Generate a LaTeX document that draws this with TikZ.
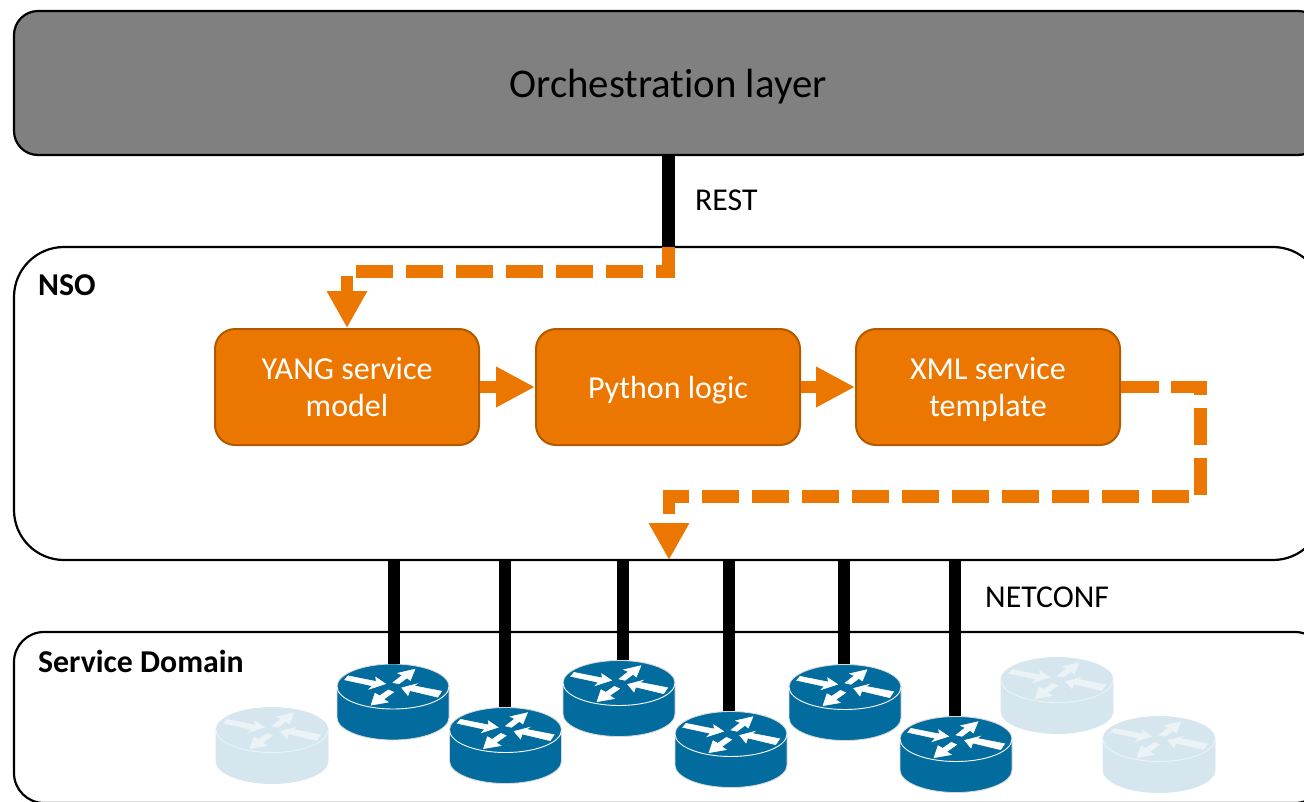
\documentclass[tikz,border=0pt]{standalone}
\usepackage{fontspec}
\setmainfont{Carlito}[Ligatures={NoCommon}]
\usetikzlibrary{arrows.meta}
\definecolor{orch}{HTML}{808080}
\definecolor{org}{HTML}{EC7700}
\definecolor{orgd}{HTML}{B05A00}
\definecolor{rblue}{HTML}{036C9E}
\definecolor{rfade}{HTML}{D6E6EF}
\newcommand{\nodepth}[1]{\raisebox{0pt}[\height][0pt]{#1}}
\tikzset{
  layerbox/.style={draw=black,line width=2.2pt,rounded corners=#1,inner sep=0pt},
  logicbox/.style={draw=orgd,line width=2pt,fill=org,rounded corners=20pt,minimum width=264pt,minimum height=116pt,inner sep=0pt,align=center,text=white,font=\fontsize{32pt}{37pt}\selectfont},
  lbl/.style={inner sep=0pt,font=\fontsize{31.8pt}{38pt}\selectfont},
  blbl/.style={lbl,font=\fontsize{31.8pt}{38pt}\selectfont\bfseries},
  link/.style={draw=black,line width=12.5pt},
  flow/.style={draw=org,line width=12.6pt,dash pattern=on 37.5pt off 12.5pt,-{Triangle[length=37pt,width=38pt]}},
  solidflow/.style={draw=org,line width=12.6pt,-{Triangle[length=39pt,width=38pt]}},
  routerspot/.style={inner sep=0pt,minimum width=113pt,minimum height=76pt}
}
\newcommand{\routerdraw}[6]{%
  % name, x, y(top-ellipse centre), body colour, arrow colour, outline colour
  \node[routerspot] (#1) at (#2,#3+15.5) {};
  \begin{scope}[shift={(#2,#3)}]
    \fill[#4,draw=#6,line width=0.8pt] (-56,0) -- (-56,31) arc[start angle=180,end angle=360,x radius=56,y radius=-22.5] -- (56,0) arc[start angle=0,end angle=180,x radius=56,y radius=-22.5] -- cycle;
    \draw[#5,line width=0.9pt] (-56,0) arc[start angle=180,end angle=360,x radius=56,y radius=-22.5];
    \begin{scope}[x=0.3333pt,y=-0.3333pt]
      \fill[#5,draw=#5,line width=0.5pt] (-145,-20) -- (-135,-32) -- (-50,-15) -- (-52,-28) -- (-22,-8) -- (-72,8) -- (-62,-2) -- cycle;
      \fill[#5,draw=#5,line width=0.5pt] (0,-12) -- (28,-34) -- (14,-40) -- (66,-52) -- (52,-18) -- (42,-26) -- (18,-8) -- cycle;
      \fill[#5,draw=#5,line width=0.5pt] (146,14) -- (134,32) -- (50,12) -- (45,27) -- (26,4) -- (72,-8) -- (63,-2) -- cycle;
      \fill[#5,draw=#5,line width=0.5pt] (-14,10) -- (-40,28) -- (-54,20) -- (-66,56) -- (-14,47) -- (-28,38) -- (2,17) -- cycle;
    \end{scope}
  \end{scope}}
\begin{document}
\begin{tikzpicture}[x=1pt,y=-1pt]
\useasboundingbox (0,0) rectangle (1304,801);
\clip (0,0) rectangle (1304,801);
\fill[white] (0,0) rectangle (1304,801);
% layers
\node[layerbox=24pt,fill=orch,minimum width=1308pt,minimum height=144pt,font=\fontsize{40.8pt}{48pt}\selectfont] (orchbox) at (668,83) {\nodepth{Orchestration layer}};
\node[layerbox=50pt,fill=white,minimum width=1309pt,minimum height=313pt] (nso) at (668.5,403.5) {};
\node[layerbox=30pt,fill=white,minimum width=1311pt,minimum height=171pt] (domain) at (669.5,717.5) {};
\node[blbl,anchor=west] (nsolbl) at (38,285) {NSO};
\node[blbl,anchor=west] (sdlbl) at (38,661) {Service Domain};
\node[lbl,anchor=west] (restlbl) at (695,200) {REST};
\node[lbl,anchor=west] (ncflbl) at (985,597) {NETCONF};
% logic boxes
\node[logicbox] (yang) at (347,387) {YANG service\\model};
\node[logicbox] (python) at (668,387) {\nodepth{Python logic}};
\node[logicbox] (xml) at (988,387) {XML service\\\nodepth{template}};
% faded routers
\routerdraw{f1}{272}{730}{rfade}{white!50!rfade}{rfade}
\routerdraw{f2}{1057}{680}{rfade}{white!50!rfade}{rfade}
\routerdraw{f3}{1159}{739}{rfade}{white!50!rfade}{rfade}
% active routers
\routerdraw{r1}{393}{686.5}{rblue}{white}{black!15}
\routerdraw{r2}{505.5}{730}{rblue}{white}{black!15}
\routerdraw{r3}{619}{683}{rblue}{white}{black!15}
\routerdraw{r4}{731}{734}{rblue}{white}{black!15}
\routerdraw{r5}{845}{687}{rblue}{white}{black!15}
\routerdraw{r6}{956}{739}{rblue}{white}{black!15}
% anchors of the links on the NSO edge
\coordinate (a1) at (394,560);
\coordinate (a2) at (505,560);
\coordinate (a3) at (623,560);
\coordinate (a4) at (729,560);
\coordinate (a5) at (844,560);
\coordinate (a6) at (955,560);
\draw[link] (a1) -- (a1 |- r1.north);
\draw[link] (a2) -- (a2 |- r2.north);
\draw[link] (a3) -- (a3 |- r3.north);
\draw[link] (a4) -- (a4 |- r4.north);
\draw[link] (a5) -- (a5 |- r5.north);
\draw[link] (a6) -- (a6 |- r6.north);
\coordinate (restin) at (668.5,247);
\draw[link] (orchbox.south -| restin) -- (restin);
% orange flows
\coordinate (c1) at (347,271.5);
\draw[flow] (restin) |- (c1) -- (yang.north);
\draw[solidflow] (yang.east) -- (python.west);
\draw[solidflow] (python.east) -- (xml.west);
\coordinate (c2) at (1200.5,496.3);
\coordinate (c3) at (669,496.3);
\coordinate (c4) at (669,560);
\draw[flow] (xml.east) -| (c2) -- (c3) -- (c4);
\end{tikzpicture}
\end{document}
